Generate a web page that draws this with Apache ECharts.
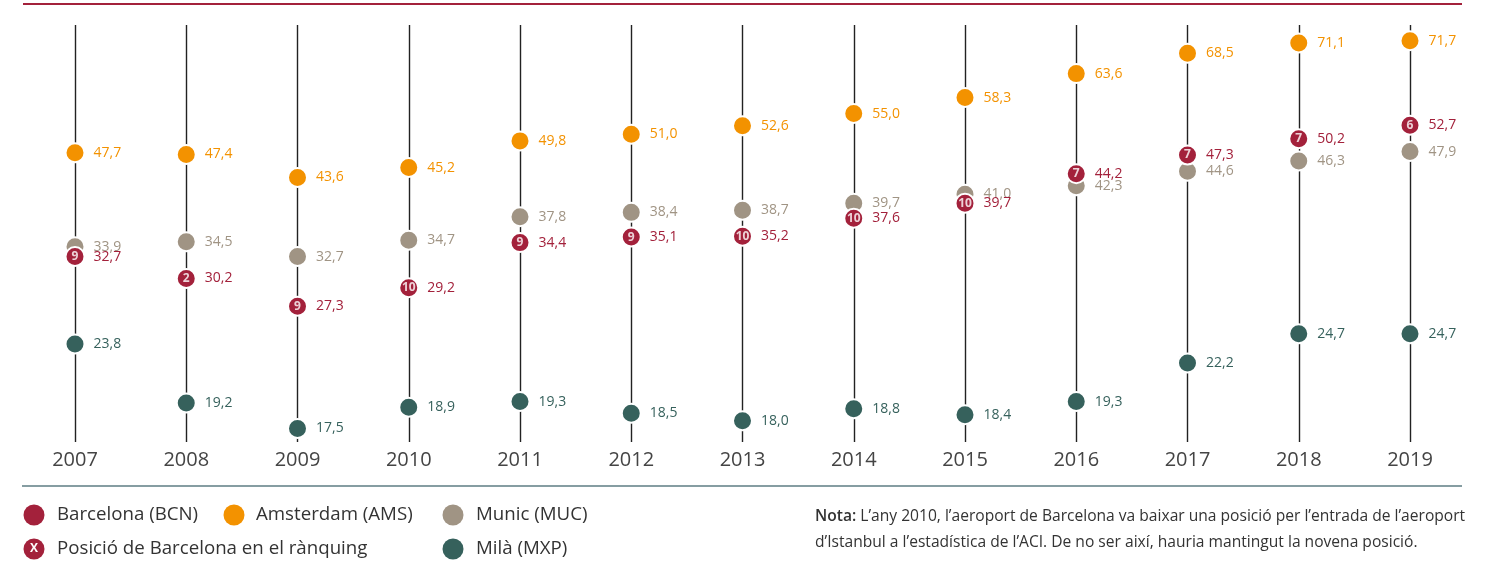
<!DOCTYPE html>
<html>
<head>
<meta charset="utf-8">
<script src="https://cdn.jsdelivr.net/npm/echarts@6/dist/echarts.min.js"></script>
<style>
  html, body { margin: 0; padding: 0; background: #fff; }
  #chart { width: 1498px; height: 566px; }
</style>
</head>
<body>
<div id="chart"></div>
<script>
// dades (milions de passatgers)
var years = ['2007', '2008', '2009', '2010', '2011', '2012', '2013', '2014', '2015', '2016', '2017', '2018', '2019']
var bcnValues = [32.7, 30.2, 27.3, 29.2, 34.4, 35.1, 35.2, 37.6, 39.7, 44.2, 47.3, 50.2, 52.7]
var bcnRank = [9, 2, 9, 10, 9, 9, 10, 10, 10, 7, 7, 7, 6]
var amsValues = [47.7, 47.4, 43.6, 45.2, 49.8, 51.0, 52.6, 55.0, 58.3, 63.6, 68.5, 71.1, 71.7]
var mucValues = [33.9, 34.5, 32.7, 34.7, 37.8, 38.4, 38.7, 39.7, 41.0, 42.3, 44.6, 46.3, 47.9]
var mxpValues = [23.8, 19.2, 17.5, 18.9, 19.3, 18.5, 18.0, 18.8, 18.4, 19.3, 22.2, 24.7, 24.7]

var colBCN = '#A3213B'
var colAMS = '#F39200'
var colMUC = '#A09484'
var colMXP = '#36615C'
var font = '"Open Sans", sans-serif'

function fmt (v) {
  return v.toFixed(1).replace('.', ',')
}

function pairs (arr) {
  return arr.map(function (v, i) { return [years[i], v] })
}

function dotSeries (name, values, color) {
  return {
    name: name,
    type: 'scatter',
    data: pairs(values),
    symbolSize: 19,
    itemStyle: { color: color, borderColor: '#fff', borderWidth: 2, opacity: 1 },
    label: {
      show: true,
      position: 'right',
      distance: 8,
      color: color,
      fontFamily: font,
      fontSize: 14,
      formatter: function (p) { return fmt(p.value[1]) }
    },
    labelLayout: { moveOverlap: 'shiftY' },
    emphasis: { disabled: true },
    z: 3
  }
}

var legendFont = '18.7px ' + font

var chart = echarts.init(document.getElementById('chart'))

var option = {
  animation: false,
  grid: { left: 75, right: 88, top: 25, bottom: 124 },
  xAxis: {
    type: 'category',
    data: years,
    boundaryGap: false,
    axisLine: { show: false },
    axisTick: { show: false },
    axisLabel: { interval: 0, margin: 8, color: '#444', fontFamily: font, fontSize: 20 },
    splitLine: { show: true, interval: 0, lineStyle: { color: '#222', width: 1.4 } }
  },
  yAxis: {
    type: 'log',
    min: 16.66,
    max: 75.9,
    show: false
  },
  series: [
    dotSeries('Amsterdam (AMS)', amsValues, colAMS),
    dotSeries('Munic (MUC)', mucValues, colMUC),
    dotSeries('Milà (MXP)', mxpValues, colMXP),
    dotSeries('Barcelona (BCN)', bcnValues, colBCN),
    {
      name: 'Posició',
      type: 'scatter',
      data: bcnValues.map(function (v, i) { return { value: [years[i], v], rank: bcnRank[i] } }),
      symbolSize: 19,
      itemStyle: { color: 'transparent', borderWidth: 0 },
      label: {
        show: true,
        position: 'inside',
        color: '#fff',
        fontFamily: font,
        fontWeight: 'bold',
        fontSize: 12,
        formatter: function (p) { return p.data.rank }
      },
      silent: true,
      z: 4
    }
  ],
  graphic: [
    { type: 'line', shape: { x1: 23, y1: 4, x2: 1462, y2: 4 }, style: { stroke: colBCN, lineWidth: 2 } },
    { type: 'line', shape: { x1: 22, y1: 486, x2: 1462, y2: 486 }, style: { stroke: '#5E7C83', lineWidth: 1.5 } },
    // llegenda
    { type: 'circle', shape: { cx: 34, cy: 515, r: 10.5 }, style: { fill: colBCN } },
    { type: 'text', x: 57, y: 515, style: { text: 'Barcelona (BCN)', fill: '#333', font: legendFont, textVerticalAlign: 'middle' } },
    { type: 'circle', shape: { cx: 234, cy: 515, r: 10.5 }, style: { fill: colAMS } },
    { type: 'text', x: 256, y: 515, style: { text: 'Amsterdam (AMS)', fill: '#333', font: legendFont, textVerticalAlign: 'middle' } },
    { type: 'circle', shape: { cx: 453, cy: 515, r: 10.5 }, style: { fill: colMUC } },
    { type: 'text', x: 476, y: 515, style: { text: 'Munic (MUC)', fill: '#333', font: legendFont, textVerticalAlign: 'middle' } },
    { type: 'circle', shape: { cx: 34, cy: 549, r: 10.5 }, style: { fill: colBCN } },
    { type: 'text', x: 34, y: 549, style: { text: 'X', fill: '#fff', font: 'bold 12px ' + font, textAlign: 'center', textVerticalAlign: 'middle' } },
    { type: 'text', x: 57, y: 549, style: { text: 'Posició de Barcelona en el rànquing', fill: '#333', font: legendFont, textVerticalAlign: 'middle' } },
    { type: 'circle', shape: { cx: 453, cy: 549, r: 10.5 }, style: { fill: colMXP } },
    { type: 'text', x: 476, y: 549, style: { text: 'Milà (MXP)', fill: '#333', font: legendFont, textVerticalAlign: 'middle' } },
    // nota
    {
      type: 'text',
      x: 815,
      y: 504,
      style: {
        text: '{b|Nota:} L\u2019any 2010, l\u2019aeroport de Barcelona va baixar una posició per l\u2019entrada de l\u2019aeroport\nd\u2019Istanbul a l\u2019estadística de l\u2019ACI. De no ser així, hauria mantingut la novena posició.',
        fill: '#333',
        fontFamily: font,
        fontSize: 15.6,
        lineHeight: 26,
        rich: {
          b: { fontWeight: 600, fontFamily: font, fontSize: 15.6, fill: '#333', lineHeight: 26 }
        }
      }
    }
  ]
}

chart.setOption(option)
</script>
</body>
</html>
